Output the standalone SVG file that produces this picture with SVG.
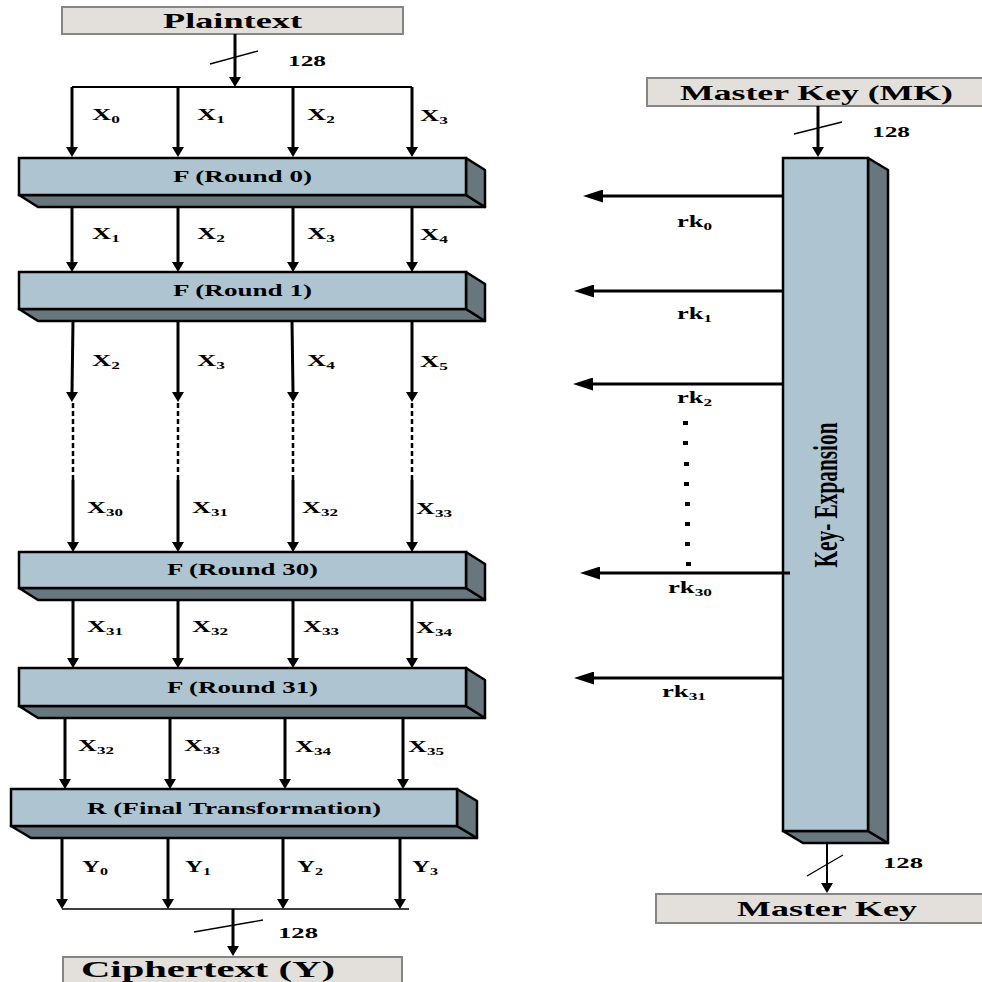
<svg xmlns="http://www.w3.org/2000/svg" width="982" height="982" viewBox="0 0 982 982">
<style>
text{font-family:"Liberation Serif","Times New Roman",serif;font-weight:bold;fill:#000}
.io{fill:#e3dfdb;stroke:#858585;stroke-width:2}
.front{fill:#aec5d1;stroke:#000;stroke-width:2.5}
.dark{fill:#68777e;stroke:#000;stroke-width:2.5;stroke-linejoin:round}
.v{stroke:#000;stroke-width:3;fill:none}
.bus{stroke:#000;stroke-width:2;fill:none}
.thin{stroke:#000;stroke-width:1.3;fill:none}
.dash{stroke:#000;stroke-width:2.5;stroke-dasharray:5,3;fill:none}
.lab{font-size:17px}
.lab tspan{font-size:11px}
.num{font-size:15px}
.box{font-size:16px}
.big{font-size:22px}
</style>
<defs>
<marker id="av" markerUnits="userSpaceOnUse" viewBox="0 0 10 12" refX="0" refY="6" markerWidth="10" markerHeight="12" orient="auto">
<path d="M0,0 L10,6 L0,12 Z" fill="#000"/>
</marker>
<marker id="ah" markerUnits="userSpaceOnUse" viewBox="0 0 20 13" refX="0" refY="6.5" markerWidth="20" markerHeight="13" orient="auto">
<path d="M0,0 L20,6.5 L0,13 Z" fill="#000"/>
</marker>
</defs>

<g id="plaintext">
<rect class="io" x="62" y="7" width="341" height="27"/>
<text class="big" x="163" y="28" font-size="20" textLength="139" lengthAdjust="spacingAndGlyphs">Plaintext</text>
</g>

<g id="round0">
<polygon class="dark" points="19,195 466,195 485,207 38,207"/>
<polygon class="dark" points="466,158 485,170 485,207 466,195"/>
<rect class="front" x="19" y="158" width="447" height="37"/>
<text class="box" x="173" y="182" textLength="139" lengthAdjust="spacingAndGlyphs">F (Round 0)</text>
</g>

<g id="round1">
<polygon class="dark" points="19,309 466,309 485,321 38,321"/>
<polygon class="dark" points="466,272 485,284 485,321 466,309"/>
<rect class="front" x="19" y="272" width="447" height="37"/>
<text class="box" x="173" y="296" textLength="139" lengthAdjust="spacingAndGlyphs">F (Round 1)</text>
</g>

<g id="round30">
<polygon class="dark" points="19,588 466,588 485,600 38,600"/>
<polygon class="dark" points="466,552 485,564 485,600 466,588"/>
<rect class="front" x="19" y="552" width="447" height="36"/>
<text class="box" x="167" y="575" textLength="151" lengthAdjust="spacingAndGlyphs">F (Round 30)</text>
</g>

<g id="round31">
<polygon class="dark" points="19,706 466,706 485,718 38,718"/>
<polygon class="dark" points="466,668 485,680 485,718 466,706"/>
<rect class="front" x="19" y="668" width="447" height="38"/>
<text class="box" x="167" y="693" textLength="151" lengthAdjust="spacingAndGlyphs">F (Round 31)</text>
</g>

<g id="final">
<polygon class="dark" points="11,826 457,826 477,838 31,838"/>
<polygon class="dark" points="457,789 477,801 477,838 457,826"/>
<rect class="front" x="11" y="789" width="446" height="37"/>
<text class="box" x="87" y="814" textLength="294" lengthAdjust="spacingAndGlyphs">R (Final Transformation)</text>
</g>

<g id="ciphertext">
<rect class="io" x="63" y="957" width="339" height="30"/>
<text x="81" y="977" font-size="23" textLength="254" lengthAdjust="spacingAndGlyphs">Ciphertext (Y)</text>
</g>

<g id="masterkey-mk">
<rect class="io" x="647" y="78" width="340" height="28"/>
<text x="680" y="100" font-size="22" textLength="273" lengthAdjust="spacingAndGlyphs">Master Key (MK)</text>
</g>

<g id="keyexpansion">
<polygon class="dark" points="783,831 868,831 888,843 803,843"/>
<polygon class="dark" points="868,158 888,170 888,843 868,831"/>
<rect class="front" x="783" y="158" width="85" height="673"/>
<text transform="translate(837,495) rotate(-90)" font-size="34" text-anchor="middle" textLength="145" lengthAdjust="spacingAndGlyphs">Key- Expansion</text>
</g>

<g id="masterkey">
<rect class="io" x="656" y="894" width="331" height="29"/>
<text x="737" y="916" font-size="21" textLength="180" lengthAdjust="spacingAndGlyphs">Master Key</text>
</g>

<g id="connectors">
<line class="v" x1="235" y1="34" x2="235" y2="77" marker-end="url(#av)"/>
<line class="thin" x1="210" y1="64" x2="258" y2="51"/>
<line class="bus" x1="72" y1="87" x2="412" y2="87"/>
<line class="v" x1="72" y1="87" x2="72" y2="147" marker-end="url(#av)"/>
<line class="v" x1="178" y1="87" x2="178" y2="147" marker-end="url(#av)"/>
<line class="v" x1="293" y1="87" x2="293" y2="147" marker-end="url(#av)"/>
<line class="v" x1="412" y1="87" x2="412" y2="147" marker-end="url(#av)"/>
<line class="v" x1="72" y1="207" x2="72" y2="262" marker-end="url(#av)"/>
<line class="v" x1="178" y1="207" x2="178" y2="262" marker-end="url(#av)"/>
<line class="v" x1="293" y1="207" x2="293" y2="262" marker-end="url(#av)"/>
<line class="v" x1="412" y1="207" x2="412" y2="262" marker-end="url(#av)"/>
<line class="v" x1="73" y1="321" x2="72" y2="392" marker-end="url(#av)"/>
<line class="v" x1="178" y1="321" x2="178" y2="392" marker-end="url(#av)"/>
<line class="v" x1="292" y1="321" x2="293" y2="392" marker-end="url(#av)"/>
<line class="v" x1="412" y1="321" x2="412" y2="392" marker-end="url(#av)"/>
<line class="dash" x1="73" y1="403" x2="73" y2="480"/>
<line class="dash" x1="178" y1="403" x2="178" y2="480"/>
<line class="dash" x1="293" y1="403" x2="293" y2="480"/>
<line class="dash" x1="412" y1="403" x2="412" y2="480"/>
<line class="v" x1="73" y1="480" x2="73" y2="542" marker-end="url(#av)"/>
<line class="v" x1="178" y1="480" x2="178" y2="542" marker-end="url(#av)"/>
<line class="v" x1="293" y1="480" x2="293" y2="542" marker-end="url(#av)"/>
<line class="v" x1="412" y1="480" x2="412" y2="542" marker-end="url(#av)"/>
<line class="v" x1="73" y1="600" x2="73" y2="658" marker-end="url(#av)"/>
<line class="v" x1="178" y1="600" x2="178" y2="658" marker-end="url(#av)"/>
<line class="v" x1="293" y1="600" x2="293" y2="658" marker-end="url(#av)"/>
<line class="v" x1="412" y1="600" x2="412" y2="658" marker-end="url(#av)"/>
<line class="v" x1="65" y1="718" x2="65" y2="779" marker-end="url(#av)"/>
<line class="v" x1="170" y1="718" x2="170" y2="779" marker-end="url(#av)"/>
<line class="v" x1="285" y1="718" x2="285" y2="779" marker-end="url(#av)"/>
<line class="v" x1="403" y1="718" x2="403" y2="779" marker-end="url(#av)"/>
<line class="v" x1="62" y1="838" x2="62" y2="899" marker-end="url(#av)"/>
<line class="v" x1="168" y1="838" x2="168" y2="899" marker-end="url(#av)"/>
<line class="v" x1="283" y1="838" x2="283" y2="899" marker-end="url(#av)"/>
<line class="v" x1="400" y1="838" x2="400" y2="899" marker-end="url(#av)"/>
<line class="thin" x1="62" y1="909" x2="409" y2="909"/>
<line class="v" x1="233" y1="909" x2="233" y2="946" marker-end="url(#av)"/>
<line class="thin" x1="194" y1="932" x2="263" y2="920"/>
<line class="v" x1="818" y1="106" x2="818" y2="147" marker-end="url(#av)"/>
<line class="thin" x1="794" y1="134" x2="842" y2="122"/>
<line class="bus" x1="827" y1="843" x2="827" y2="883" marker-end="url(#av)"/>
<line class="thin" x1="807" y1="876" x2="843" y2="855"/>
<line class="v" x1="783" y1="196" x2="603" y2="196" marker-end="url(#ah)"/>
<line class="v" x1="783" y1="291" x2="594" y2="291" marker-end="url(#ah)"/>
<line class="v" x1="783" y1="384" x2="593" y2="384" marker-end="url(#ah)"/>
<line class="v" x1="790" y1="573" x2="600" y2="573" marker-end="url(#ah)"/>
<line class="v" x1="783" y1="678" x2="594" y2="678" marker-end="url(#ah)"/>
<g fill="#000">
<rect x="683" y="421" width="5" height="4"/>
<rect x="683" y="441" width="5" height="4"/>
<rect x="684" y="462" width="5" height="4"/>
<rect x="684" y="482" width="5" height="4"/>
<rect x="685" y="502" width="5" height="4"/>
<rect x="685" y="522" width="5" height="4"/>
<rect x="685" y="542" width="5" height="4"/>
<rect x="686" y="562" width="5" height="4"/>
</g>
</g>

<g id="labels">
<text class="num" x="288" y="66" textLength="38" lengthAdjust="spacingAndGlyphs">128</text>
<text class="num" x="872" y="137" textLength="38" lengthAdjust="spacingAndGlyphs">128</text>
<text class="num" x="883" y="868" textLength="40" lengthAdjust="spacingAndGlyphs">128</text>
<text class="num" x="278" y="938" textLength="40" lengthAdjust="spacingAndGlyphs">128</text>

<text class="lab" x="92" y="120" textLength="28" lengthAdjust="spacingAndGlyphs">X<tspan dy="3">0</tspan></text>
<text class="lab" x="197" y="120" textLength="28" lengthAdjust="spacingAndGlyphs">X<tspan dy="3">1</tspan></text>
<text class="lab" x="307" y="120" textLength="28" lengthAdjust="spacingAndGlyphs">X<tspan dy="3">2</tspan></text>
<text class="lab" x="420" y="121" textLength="28" lengthAdjust="spacingAndGlyphs">X<tspan dy="3">3</tspan></text>

<text class="lab" x="92" y="239" textLength="28" lengthAdjust="spacingAndGlyphs">X<tspan dy="3">1</tspan></text>
<text class="lab" x="197" y="239" textLength="28" lengthAdjust="spacingAndGlyphs">X<tspan dy="3">2</tspan></text>
<text class="lab" x="307" y="239" textLength="28" lengthAdjust="spacingAndGlyphs">X<tspan dy="3">3</tspan></text>
<text class="lab" x="420" y="240" textLength="28" lengthAdjust="spacingAndGlyphs">X<tspan dy="3">4</tspan></text>

<text class="lab" x="92" y="366" textLength="28" lengthAdjust="spacingAndGlyphs">X<tspan dy="3">2</tspan></text>
<text class="lab" x="197" y="366" textLength="28" lengthAdjust="spacingAndGlyphs">X<tspan dy="3">3</tspan></text>
<text class="lab" x="307" y="366" textLength="28" lengthAdjust="spacingAndGlyphs">X<tspan dy="3">4</tspan></text>
<text class="lab" x="420" y="367" textLength="28" lengthAdjust="spacingAndGlyphs">X<tspan dy="3">5</tspan></text>

<text class="lab" x="87" y="513" textLength="36" lengthAdjust="spacingAndGlyphs">X<tspan dy="3">30</tspan></text>
<text class="lab" x="192" y="513" textLength="36" lengthAdjust="spacingAndGlyphs">X<tspan dy="3">31</tspan></text>
<text class="lab" x="302" y="513" textLength="36" lengthAdjust="spacingAndGlyphs">X<tspan dy="3">32</tspan></text>
<text class="lab" x="416" y="514" textLength="36" lengthAdjust="spacingAndGlyphs">X<tspan dy="3">33</tspan></text>

<text class="lab" x="87" y="632" textLength="36" lengthAdjust="spacingAndGlyphs">X<tspan dy="3">31</tspan></text>
<text class="lab" x="192" y="632" textLength="36" lengthAdjust="spacingAndGlyphs">X<tspan dy="3">32</tspan></text>
<text class="lab" x="303" y="632" textLength="36" lengthAdjust="spacingAndGlyphs">X<tspan dy="3">33</tspan></text>
<text class="lab" x="416" y="633" textLength="36" lengthAdjust="spacingAndGlyphs">X<tspan dy="3">34</tspan></text>

<text class="lab" x="78" y="751" textLength="36" lengthAdjust="spacingAndGlyphs">X<tspan dy="3">32</tspan></text>
<text class="lab" x="184" y="751" textLength="36" lengthAdjust="spacingAndGlyphs">X<tspan dy="3">33</tspan></text>
<text class="lab" x="295" y="752" textLength="36" lengthAdjust="spacingAndGlyphs">X<tspan dy="3">34</tspan></text>
<text class="lab" x="408" y="752" textLength="36" lengthAdjust="spacingAndGlyphs">X<tspan dy="3">35</tspan></text>

<text class="lab" x="82" y="872" textLength="26" lengthAdjust="spacingAndGlyphs">Y<tspan dy="3">0</tspan></text>
<text class="lab" x="185" y="872" textLength="26" lengthAdjust="spacingAndGlyphs">Y<tspan dy="3">1</tspan></text>
<text class="lab" x="297" y="872" textLength="26" lengthAdjust="spacingAndGlyphs">Y<tspan dy="3">2</tspan></text>
<text class="lab" x="412" y="872" textLength="26" lengthAdjust="spacingAndGlyphs">Y<tspan dy="3">3</tspan></text>

<text class="lab" x="677" y="227" textLength="35" lengthAdjust="spacingAndGlyphs">rk<tspan dy="3">0</tspan></text>
<text class="lab" x="677" y="319" textLength="35" lengthAdjust="spacingAndGlyphs">rk<tspan dy="3">1</tspan></text>
<text class="lab" x="677" y="403" textLength="35" lengthAdjust="spacingAndGlyphs">rk<tspan dy="3">2</tspan></text>
<text class="lab" x="668" y="593" textLength="44" lengthAdjust="spacingAndGlyphs">rk<tspan dy="3">30</tspan></text>
<text class="lab" x="662" y="697" textLength="44" lengthAdjust="spacingAndGlyphs">rk<tspan dy="3">31</tspan></text>
</g>
</svg>
